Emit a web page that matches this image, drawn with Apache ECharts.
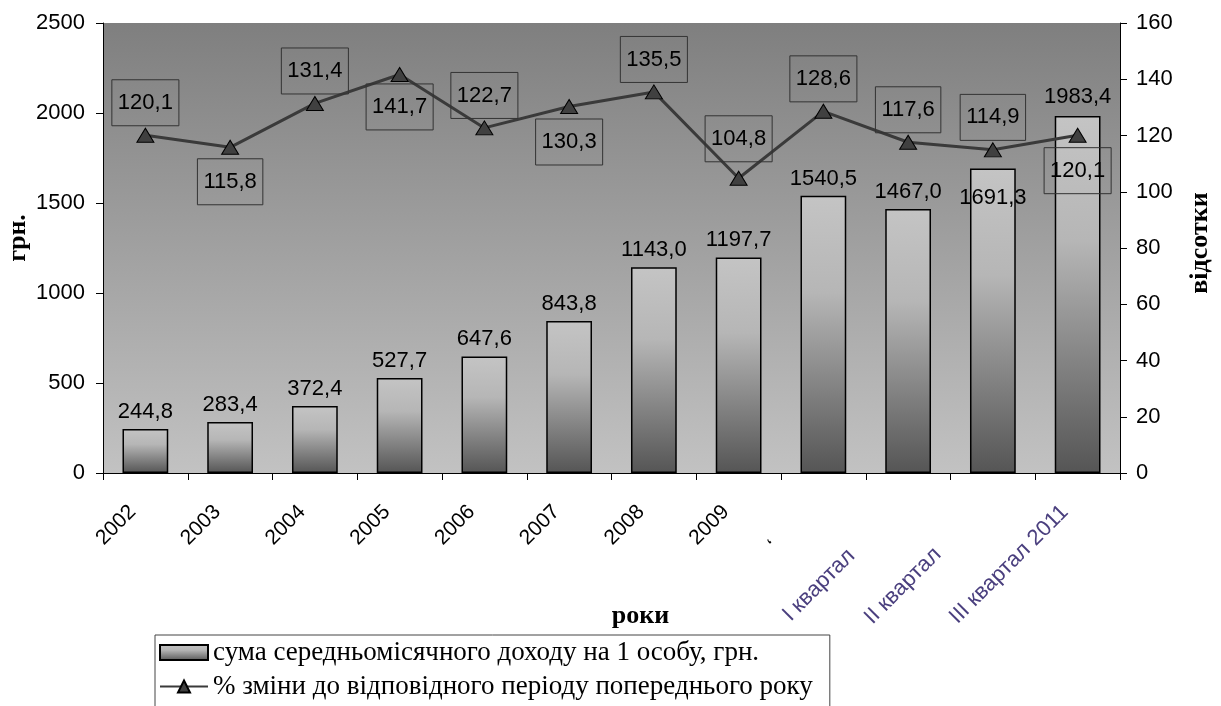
<!DOCTYPE html>
<html>
<head>
<meta charset="utf-8">
<script src="https://cdn.jsdelivr.net/npm/echarts@6/dist/echarts.min.js"></script>
<style>
html,body{margin:0;padding:0;background:#fff;}
#chart{width:1221px;height:706px;}
</style>
</head>
<body>
<div id="chart"></div>
<script>
const categories = ['2002','2003','2004','2005','2006','2007','2008','2009','‘','I квартал','II квартал','III квартал 2011'];
const incomeValues = [244.8, 283.4, 372.4, 527.7, 647.6, 843.8, 1143.0, 1197.7, 1540.5, 1467.0, 1691.3, 1983.4];
const changeValues = [120.1, 115.8, 131.4, 141.7, 122.7, 130.3, 135.5, 104.8, 128.6, 117.6, 114.9, 120.1];
const leftAxisMax = 2500, leftAxisStep = 500;
const rightAxisMax = 160, rightAxisStep = 20;
const incomeName = 'сума середньомісячного доходу на 1 особу, грн.';
const changeName = '% зміни до відповідного періоду попереднього року';

// styling: label placement
const changeLabelPos = ['top','bottom','top','bottom','top','bottom','top','top','top','top','top','bottom'];
const changeLabelDist = [2, 4, 2, 2, 2, 5, 2, 9, 2, 2, 2, 5];
const barLabelPos = ['top','top','top','top','top','top','top','top','top','top','insideTop','top'];
const barLabelDist = [6, 6, 6, 6, 6, 6, 6, 6, 6, 6, 18, 8];
const labelShift = {8: 50, 9: 62, 10: 60};

const ARIAL = 'Arial, "Liberation Sans", sans-serif';
const TIMES = '"Times New Roman", "Liberation Serif", serif';
const fmt = v => Number(v).toFixed(1).replace('.', ',');

const chart = echarts.init(document.getElementById('chart'), null, {renderer: 'canvas'});

const barGradient = new echarts.graphic.LinearGradient(0, 0, 0, 1, [
  {offset: 0, color: '#c4c4c4'},
  {offset: 0.35, color: '#b6b6b6'},
  {offset: 0.75, color: '#7a7a7a'},
  {offset: 1, color: '#555555'}
]);

const quarterColor = '#4a3f7e';
const richBase = (pr, color, size) => ({fontFamily: ARIAL, fontSize: size, color: color, padding: [0, pr, 0, 0]});

const option = {
  animation: false,
  backgroundColor: '#ffffff',
  grid: {
    left: 103, right: 101, top: 23, bottom: 233,
    containLabel: false,
    outerBoundsMode: 'none',
    show: true, borderWidth: 0,
    backgroundColor: new echarts.graphic.LinearGradient(0, 0, 0, 1, [
      {offset: 0, color: '#7f7f7f'},
      {offset: 1, color: '#c2c2c2'}
    ])
  },
  legend: {
    orient: 'vertical',
    left: 155, top: 635,
    height: 140,
    borderColor: '#444', borderWidth: 1,
    padding: [4, 17, 40, 4],
    itemGap: 7, itemWidth: 48, itemHeight: 15,
    textStyle: {fontFamily: TIMES, fontSize: 27, color: '#000'},
    data: [{name: incomeName, icon: 'rect'}, {name: changeName}]
  },
  xAxis: {
    type: 'category',
    data: categories,
    boundaryGap: true,
    axisLine: {lineStyle: {color: '#000', width: 1}},
    axisTick: {show: true, length: 7, lineStyle: {color: '#000'}},
    axisLabel: {
      rotate: 45, margin: 23, interval: 0,
      fontFamily: ARIAL, fontSize: 21, color: '#000',
      formatter: (v, i) => {
        if (i === 8) return '{m|' + v + '}';
        if (i >= 9) return '{q' + i + '|' + v + '}';
        return '{n|' + v + '}';
      },
      rich: {
        n: richBase(18, '#000', 21),
        m: richBase(18 + labelShift[8], '#000', 21),
        q9: richBase(18 + labelShift[9], quarterColor, 22),
        q10: richBase(18 + labelShift[10], quarterColor, 22),
        q11: richBase(18, quarterColor, 22)
      }
    },
    name: 'роки',
    nameLocation: 'middle',
    nameGap: 130,
    nameMoveOverlap: false,
    nameTextStyle: {fontFamily: TIMES, fontSize: 26, fontWeight: 'bold', color: '#000', padding: [0, 0, 0, 58]}
  },
  yAxis: [
    {
      type: 'value', min: 0, max: leftAxisMax, interval: leftAxisStep,
      position: 'left',
      axisLine: {show: true, lineStyle: {color: '#000', width: 1}},
      axisTick: {show: true, length: 7, lineStyle: {color: '#000'}},
      splitLine: {show: false},
      axisLabel: {margin: 18, fontFamily: ARIAL, fontSize: 22, color: '#000', formatter: v => String(v)},
      name: 'грн.', nameLocation: 'middle', nameRotate: 90, nameGap: 72,
      nameMoveOverlap: false,
      nameTextStyle: {fontFamily: TIMES, fontSize: 26, fontWeight: 'bold', color: '#000', padding: [0, 0, 0, 20]}
    },
    {
      type: 'value', min: 0, max: rightAxisMax, interval: rightAxisStep,
      position: 'right',
      axisLine: {show: true, lineStyle: {color: '#000', width: 1}},
      axisTick: {show: true, length: 7, lineStyle: {color: '#000'}},
      splitLine: {show: false},
      axisLabel: {margin: 16, fontFamily: ARIAL, fontSize: 22, color: '#000', formatter: v => String(v)},
      name: 'відсотки', nameLocation: 'middle', nameRotate: 90, nameGap: 67,
      nameMoveOverlap: false,
      nameTextStyle: {fontFamily: TIMES, fontSize: 26, fontWeight: 'bold', color: '#000', padding: [0, 0, 0, 10]}
    }
  ],
  series: [
    {
      name: incomeName,
      type: 'bar',
      yAxisIndex: 0,
      barWidth: '54%',
      data: incomeValues.map((v, i) => ({
        value: v,
        label: {position: barLabelPos[i], distance: barLabelDist[i]}
      })),
      itemStyle: {color: barGradient, borderColor: '#000', borderWidth: 1.5},
      label: {
        show: true, position: 'top', distance: 6,
        formatter: p => fmt(p.value),
        fontFamily: ARIAL, fontSize: 22, color: '#000'
      },
      z: 2
    },
    {
      name: changeName,
      type: 'line',
      yAxisIndex: 1,
      data: changeValues.map((v, i) => ({
        value: v,
        label: {position: changeLabelPos[i], distance: changeLabelDist[i]}
      })),
      symbol: 'triangle',
      symbolSize: [17, 14],
      lineStyle: {color: '#3a3a3a', width: 3},
      itemStyle: {color: '#404040', borderColor: '#000', borderWidth: 1},
      label: {
        show: true,
        formatter: p => fmt(p.value),
        fontFamily: ARIAL, fontSize: 22, color: '#000',
        borderColor: '#333', borderWidth: 1,
        padding: [11, 6, 11, 6],
        lineHeight: 24
      },
      z: 5
    }
  ]
};
chart.setOption(option);
</script>
</body>
</html>
